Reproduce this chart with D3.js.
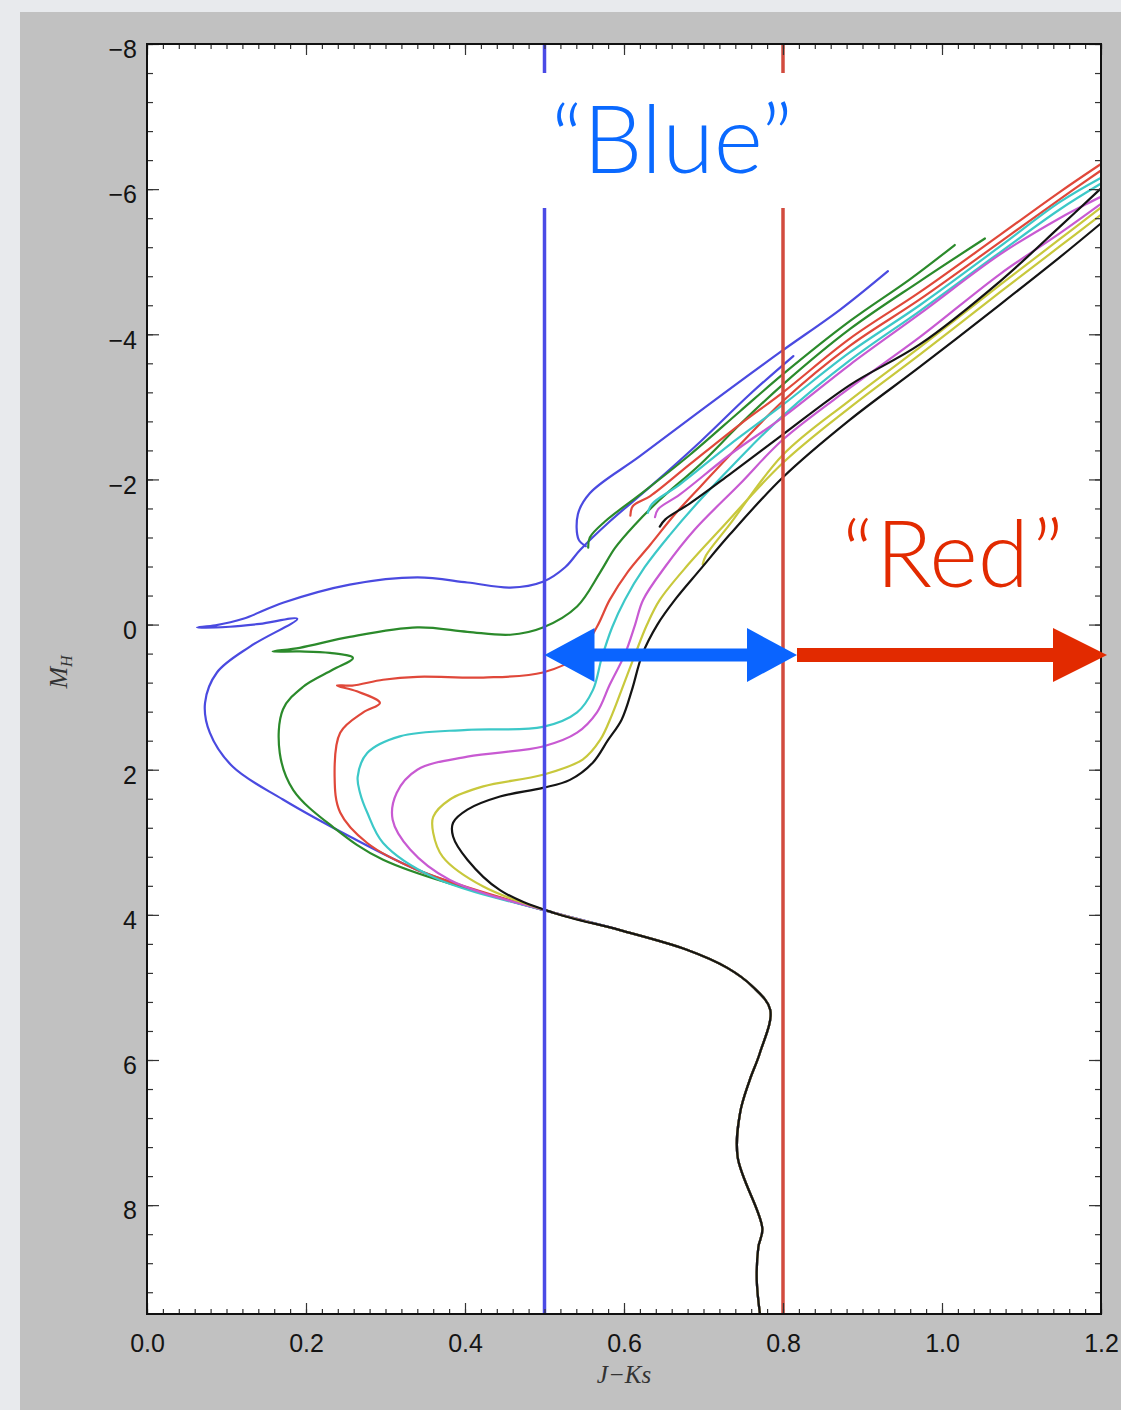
<!DOCTYPE html>
<html>
<head>
<meta charset="utf-8">
<script src="https://cdn.jsdelivr.net/npm/d3@7"></script>
<style>
  html, body { margin: 0; padding: 0; background: #e8eaed; }
  svg { display: block; }
</style>
</head>
<body>
<svg id="chart" width="1121" height="1410"></svg>
<script>
// ---- axes ----
const xDomain = [0, 1.2];
const yDomain = [-8, 9.5];
const xTicks = [0.0, 0.2, 0.4, 0.6, 0.8, 1.0, 1.2];
const yTicks = [-8, -6, -4, -2, 0, 2, 4, 6, 8];

// ---- isochrones: [J-Ks, M_H] ----
// lower main sequence shared by every isochrone (faint end upwards)
const lowerMS = [[0.771,9.50],[0.767,9.03],[0.769,8.58],[0.774,8.32],[0.743,7.34],[0.746,6.73],
  [0.758,6.28],[0.771,5.90],[0.784,5.31],[0.762,4.99],[0.730,4.73],[0.679,4.48],[0.595,4.21],[0.511,3.97]];

const blueRgb = [[0.423,3.70],[0.340,3.38],[0.255,2.92],[0.171,2.41],[0.108,1.96],[0.079,1.49],[0.073,1.08],
  [0.088,0.66],[0.130,0.30],[0.189,-0.08],[0.142,-0.01],[0.104,0.03],[0.063,0.04],[0.086,0.01],[0.121,-0.08],
  [0.171,-0.30],[0.255,-0.55],[0.340,-0.65],[0.403,-0.58],[0.457,-0.51],[0.498,-0.59],[0.526,-0.79],
  [0.545,-1.03],[0.582,-1.42],[0.633,-1.90],[0.696,-2.52],[0.758,-3.17],[0.813,-3.70]];
const blueAgb = [[0.552,-1.08],[0.543,-1.17],[0.542,-1.52],[0.557,-1.81],[0.620,-2.32],[0.704,-3.01],
  [0.796,-3.75],[0.872,-4.34],[0.932,-4.87]];

const greenRgb = [[0.297,3.24],[0.234,2.79],[0.184,2.28],[0.167,1.77],[0.171,1.17],[0.196,0.86],[0.234,0.62],
  [0.259,0.46],[0.230,0.39],[0.192,0.37],[0.158,0.37],[0.192,0.32],[0.255,0.17],[0.340,0.04],[0.403,0.10],
  [0.457,0.14],[0.498,0.04],[0.541,-0.25],[0.570,-0.72],[0.589,-1.06],[0.614,-1.38],[0.645,-1.72],
  [0.696,-2.21],[0.746,-2.76],[0.800,-3.31],[0.884,-4.07],[0.972,-4.73],[1.054,-5.32]];
const greenAgb = [[0.555,-1.06],[0.557,-1.20],[0.576,-1.42],[0.620,-1.79],[0.683,-2.34],[0.746,-2.94],
  [0.800,-3.45],[0.884,-4.18],[0.960,-4.76],[1.016,-5.23]];

const redRgb = [[0.340,3.38],[0.277,3.01],[0.243,2.59],[0.236,2.10],[0.243,1.49],[0.272,1.21],[0.293,1.08],
  [0.264,0.92],[0.239,0.84],[0.258,0.84],[0.297,0.76],[0.340,0.72],[0.423,0.73],[0.498,0.66],[0.541,0.44],
  [0.566,0.03],[0.582,-0.34],[0.605,-0.73],[0.633,-1.10],[0.664,-1.52],[0.696,-1.90],[0.746,-2.48],
  [0.800,-3.08],[0.884,-3.84],[0.972,-4.48],[1.073,-5.27],[1.148,-5.86],[1.199,-6.25]];
const redAgb = [[0.608,-1.50],[0.611,-1.63],[0.633,-1.77],[0.683,-2.21],[0.746,-2.76],[0.800,-3.20],
  [0.884,-3.94],[0.972,-4.58],[1.073,-5.37],[1.148,-5.96],[1.199,-6.34]];

const cyanRgb = [[0.360,3.48],[0.297,3.01],[0.277,2.59],[0.268,2.32],[0.265,2.10],[0.277,1.77],[0.318,1.54],
  [0.403,1.45],[0.498,1.41],[0.541,1.21],[0.561,0.90],[0.572,0.46],[0.585,0.04],[0.601,-0.34],[0.626,-0.79],
  [0.658,-1.24],[0.696,-1.72],[0.746,-2.30],[0.800,-2.88],[0.884,-3.64],[0.972,-4.32],[1.073,-5.13],
  [1.148,-5.72],[1.199,-6.07]];
const cyanAgb = [[0.630,-1.54],[0.635,-1.66],[0.670,-1.93],[0.733,-2.48],[0.800,-3.03],[0.884,-3.75],
  [0.972,-4.40],[1.073,-5.21],[1.148,-5.82],[1.199,-6.15]];

const magentaRgb = [[0.381,3.52],[0.331,3.10],[0.309,2.69],[0.314,2.32],[0.340,2.00],[0.403,1.82],[0.498,1.68],
  [0.541,1.49],[0.566,1.21],[0.582,0.83],[0.601,0.41],[0.614,0.00],[0.624,-0.34],[0.652,-0.80],[0.689,-1.31],
  [0.746,-1.94],[0.800,-2.55],[0.884,-3.26],[0.972,-3.96],[1.073,-4.83],[1.148,-5.39],[1.199,-5.79]];
const magentaAgb = [[0.639,-1.48],[0.643,-1.59],[0.670,-1.79],[0.733,-2.34],[0.800,-2.86],[0.884,-3.58],
  [0.972,-4.28],[1.073,-5.10],[1.148,-5.60],[1.199,-5.89]];

const yellowRgb = [[0.423,3.61],[0.372,3.20],[0.360,2.87],[0.360,2.65],[0.381,2.41],[0.423,2.23],[0.498,2.07],
  [0.548,1.86],[0.570,1.59],[0.585,1.24],[0.597,0.90],[0.614,0.41],[0.629,0.00],[0.645,-0.34],[0.681,-0.83],
  [0.721,-1.31],[0.800,-2.23],[0.884,-2.99],[0.972,-3.72],[1.073,-4.58],[1.148,-5.21],[1.199,-5.64]];
const yellowAgb = [[0.699,-0.83],[0.703,-0.95],[0.733,-1.38],[0.800,-2.34],[0.884,-3.09],[0.972,-3.82],
  [1.073,-4.68],[1.148,-5.31],[1.199,-5.74]];

const blackRgb = [[0.444,3.66],[0.403,3.24],[0.385,2.92],[0.385,2.73],[0.403,2.55],[0.444,2.37],[0.498,2.25],
  [0.532,2.14],[0.561,1.90],[0.580,1.59],[0.597,1.31],[0.610,0.90],[0.623,0.41],[0.642,0.00],[0.664,-0.34],
  [0.696,-0.76],[0.733,-1.24],[0.800,-2.03],[0.884,-2.82],[0.972,-3.55],[1.073,-4.41],[1.148,-5.06],[1.199,-5.52]];
const blackAgb = [[0.645,-1.35],[0.652,-1.45],[0.683,-1.67],[0.733,-2.07],[0.800,-2.62],[0.884,-3.30],
  [0.972,-3.86],[1.073,-4.73],[1.148,-5.48],[1.199,-6.00]];

const isochrones = [
  { color: "#4a4ae0", branches: [lowerMS.concat(blueRgb), blueAgb] },
  { color: "#2b8a2b", branches: [lowerMS.concat(greenRgb), greenAgb] },
  { color: "#e0483a", branches: [lowerMS.concat(redRgb), redAgb] },
  { color: "#3cc8c8", branches: [lowerMS.concat(cyanRgb), cyanAgb] },
  { color: "#c85ad2", branches: [lowerMS.concat(magentaRgb), magentaAgb] },
  { color: "#c8c83c", branches: [lowerMS.concat(yellowRgb), yellowAgb] },
  { color: "#141414", branches: [lowerMS.concat(blackRgb), blackAgb] }
];

// colour cuts and the ranges they define
const blueCut = 0.5, redCut = 0.8;
const blueRange = [0.5, 0.8];
const redRange = [0.8, 1.2];
const arrowMag = 0.42;

// ---- layout ----
const svg = d3.select("#chart");
const pL = 147, pR = 1101, pT = 44, pB = 1314;

const x = d3.scaleLinear().domain(xDomain).range([pL, pR]);
const y = d3.scaleLinear().domain(yDomain).range([pT, pB]);

// grey panel
svg.append("rect").attr("x", 20).attr("y", 12).attr("width", 1101).attr("height", 1398).attr("fill", "#c1c1c1");
// plot background
svg.append("rect").attr("x", pL).attr("y", pT).attr("width", pR - pL).attr("height", pB - pT).attr("fill", "#ffffff");

svg.append("defs").append("clipPath").attr("id", "plotClip")
  .append("rect").attr("x", pL).attr("y", pT).attr("width", pR - pL).attr("height", pB - pT);

const plot = svg.append("g").attr("clip-path", "url(#plotClip)");

const line = d3.line()
  .x(d => x(d[0]))
  .y(d => y(d[1]))
  .curve(d3.curveCatmullRom.alpha(0.5));

isochrones.forEach(iso => {
  iso.branches.forEach(br => {
    plot.append("path")
      .attr("d", line(br))
      .attr("fill", "none")
      .attr("stroke", iso.color)
      .attr("stroke-width", 2.2)
      .attr("stroke-linejoin", "round")
      .attr("stroke-linecap", "round");
  });
});

// colour cut lines
plot.append("line").attr("x1", x(blueCut)).attr("x2", x(blueCut)).attr("y1", pT).attr("y2", pB)
  .attr("stroke", "#4b4be6").attr("stroke-width", 3.5);
plot.append("line").attr("x1", x(redCut)).attr("x2", x(redCut)).attr("y1", pT).attr("y2", pB)
  .attr("stroke", "#d24b3e").attr("stroke-width", 3.5);

// ---- frame and ticks ----
const fmtX = d3.format(".1f");
const minorX = d3.range(0, 121, 2).map(v => v / 100);
const minorY = d3.range(-40, 48, 2).map(v => v / 5);

function styleAxis(g) {
  g.select(".domain").remove();
  g.selectAll(".tick line").attr("stroke", "#333").attr("stroke-width", 1.2);
  g.selectAll("text").attr("fill", "#141414")
    .style("font-family", "'Liberation Sans', Arial, Helvetica, sans-serif").style("font-size", "25px");
}

svg.append("g").attr("transform", `translate(0,${pB})`)
  .call(d3.axisBottom(x).tickValues(minorX).tickSize(-5).tickFormat("")).call(styleAxis);
svg.append("g").attr("transform", `translate(0,${pB})`)
  .call(d3.axisBottom(x).tickValues(xTicks).tickSize(-11).tickPadding(20).tickFormat(fmtX)).call(styleAxis);
svg.append("g").attr("transform", `translate(0,${pT})`)
  .call(d3.axisTop(x).tickValues(minorX).tickSize(-5).tickFormat("")).call(styleAxis);
svg.append("g").attr("transform", `translate(0,${pT})`)
  .call(d3.axisTop(x).tickValues(xTicks).tickSize(-11).tickFormat("")).call(styleAxis);

svg.append("g").attr("transform", `translate(${pL},0)`)
  .call(d3.axisLeft(y).tickValues(minorY).tickSize(-6).tickFormat("")).call(styleAxis);
const gyl = svg.append("g").attr("transform", `translate(${pL},0)`)
  .call(d3.axisLeft(y).tickValues(yTicks).tickSize(-12).tickPadding(10).tickFormat(d3.format("d"))).call(styleAxis);
gyl.selectAll("text").attr("dy", "0.55em");
svg.append("g").attr("transform", `translate(${pR},0)`)
  .call(d3.axisRight(y).tickValues(minorY).tickSize(-6).tickFormat("")).call(styleAxis);
svg.append("g").attr("transform", `translate(${pR},0)`)
  .call(d3.axisRight(y).tickValues(yTicks).tickSize(-12).tickFormat("")).call(styleAxis);

svg.append("rect").attr("x", pL).attr("y", pT).attr("width", pR - pL).attr("height", pB - pT)
  .attr("fill", "none").attr("stroke", "#111").attr("stroke-width", 2);

// axis titles
svg.append("text").attr("x", x(0.6)).attr("y", 1383)
  .attr("text-anchor", "middle")
  .style("font-family", "'Liberation Serif', 'DejaVu Serif', serif").style("font-style", "italic")
  .style("font-size", "25px").attr("fill", "#333")
  .text("J\u2212Ks");

const yTitle = svg.append("text")
  .attr("transform", "translate(67,672) rotate(-90)")
  .attr("text-anchor", "middle")
  .style("font-family", "'Liberation Serif', 'DejaVu Serif', serif").style("font-style", "italic")
  .attr("fill", "#333");
yTitle.append("tspan").style("font-size", "26px").text("M");
yTitle.append("tspan").style("font-size", "16px").attr("dy", 5).text("H");

// ---- annotations ----
const labelFont = "Lato, 'Open Sans', 'DejaVu Sans', sans-serif";

// "Blue" label on a white card
svg.append("rect").attr("x", 532).attr("y", 73).attr("width", 268).attr("height", 135).attr("fill", "#ffffff");
svg.append("text").attr("x", 672).attr("y", 173).attr("text-anchor", "middle")
  .style("font-family", labelFont).style("font-weight", 300).style("font-size", "94px")
  .attr("fill", "#0a69ff").text("\u201CBlue\u201D");

// "Red" label
const redLabel = svg.append("text").attr("x", 842).attr("y", 587)
  .style("font-family", labelFont).style("font-weight", 300).style("font-size", "93px")
  .attr("fill", "#e22a00");
redLabel.append("tspan").text("\u201C");
redLabel.append("tspan").attr("dx", 2).text("Red");
redLabel.append("tspan").attr("dx", 3).text("\u201D");

// arrows marking the two colour ranges
function arrowPath(x0, x1, yc, half, headLen, headHalf, both) {
  const p = d3.path();
  if (both) {
    p.moveTo(x0, yc);
    p.lineTo(x0 + headLen, yc - headHalf);
    p.lineTo(x0 + headLen, yc - half);
  } else {
    p.moveTo(x0, yc - half);
  }
  p.lineTo(x1 - headLen, yc - half);
  p.lineTo(x1 - headLen, yc - headHalf);
  p.lineTo(x1, yc);
  p.lineTo(x1 - headLen, yc + headHalf);
  p.lineTo(x1 - headLen, yc + half);
  if (both) {
    p.lineTo(x0 + headLen, yc + half);
    p.lineTo(x0 + headLen, yc + headHalf);
  } else {
    p.lineTo(x0, yc + half);
  }
  p.closePath();
  return p.toString();
}

const ay = y(arrowMag);
svg.append("path")
  .attr("d", arrowPath(x(blueRange[0]), x(blueRange[1]) + 14, ay, 6.5, 50, 27, true))
  .attr("fill", "#0a64ff");
svg.append("path")
  .attr("d", arrowPath(x(redRange[0]) + 14, x(redRange[1]) + 6, ay, 7, 54, 27, false))
  .attr("fill", "#e22a00");
</script>
</body>
</html>
